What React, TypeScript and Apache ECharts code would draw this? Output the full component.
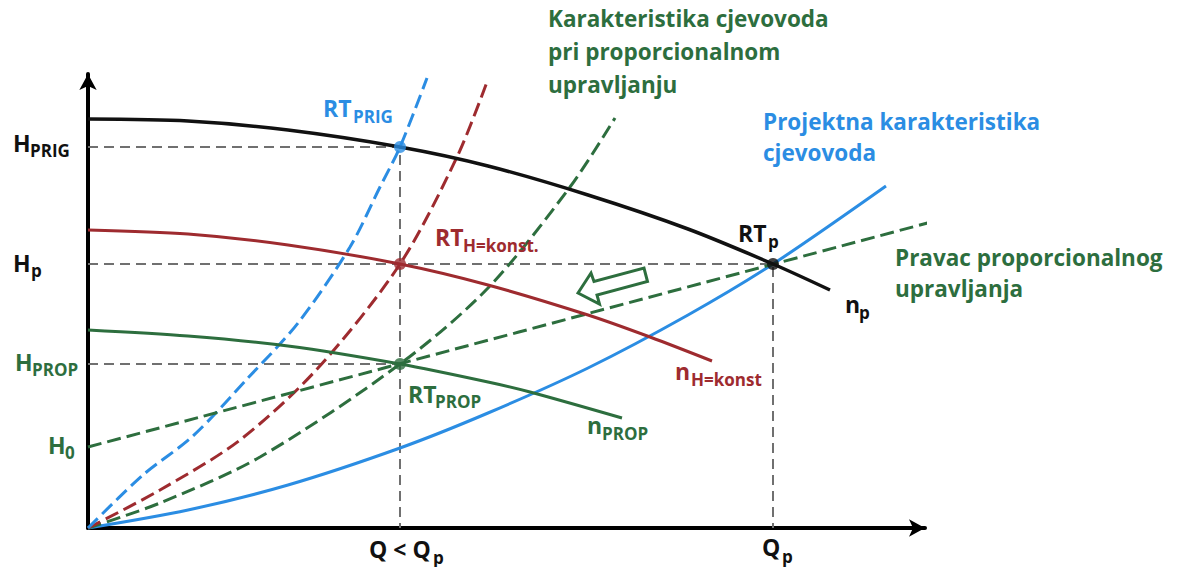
import React, { useEffect, useRef } from "react";
import * as echarts from "echarts";

// Pump curve n_p (black)
const npQ = [0, 100, 200, 312, 400, 500, 600, 685, 742];
const npH = [409, 407, 398, 381, 362, 333, 299, 264, 238];
// Pump curve n_H=konst (red)
const nHkQ = [0, 100, 200, 312, 400, 500, 562, 624];
const nHkH = [298, 294, 283, 264, 243, 213, 191, 167];
// Pump curve n_PROP (green)
const nPropQ = [0, 100, 200, 312, 400, 442, 534];
const nPropH = [198, 192, 182, 164, 146, 136, 110];
// Projektna karakteristika cjevovoda (blue solid)
const sysQ = [0, 100, 200, 312, 400, 500, 600, 685, 798];
const sysH = [0, 18, 43, 80, 115, 160, 213, 264, 342];
// System curve through RT_PRIG (blue dashed)
const prigQ = [0, 55, 105, 160, 210, 262, 292, 312, 339];
const prigH = [0, 53, 92, 150, 205, 281, 341, 381, 450];
// System curve through RT_H=konst (red dashed)
const hkQ = [0, 72, 152, 230, 312, 369, 399];
const hkH = [0, 38, 88, 160, 264, 371, 446];
// Karakteristika cjevovoda pri proporcionalnom upravljanju (green dashed)
const psQ = [0, 72, 172, 312, 400, 482, 527];
const psH = [0, 25, 71, 164, 240, 341, 410];
// Pravac proporcionalnog upravljanja (green dashed straight)
const plQ = [0, 862];
const plH = [81, 311];

// Key operating values
const qLow = 312;
const qP = 685;
const hPrig = 381;
const hP = 264;
const hProp = 164;

const BLUE = "#2b8de3";
const RED = "#9e2b2f";
const GREEN = "#2d6e3e";
const BLACK = "#111111";
const GRAY = "#707070";
const FONT = '"Open Sans", sans-serif';

const pair = (q: number[], h: number[]) => q.map((v, i) => [v, h[i]]);

const curve = (data: number[][], color: string, width: number, dashed: boolean, z = 3) => ({
  type: "line",
  data,
  smooth: 0.3,
  symbol: "none",
  clip: false,
  silent: true,
  z,
  lineStyle: { color, width, type: dashed ? [14, 6] : "solid", cap: "butt" },
});

const guide = (data: number[][]) => ({
  type: "line",
  data,
  symbol: "none",
  clip: false,
  silent: true,
  z: 2,
  lineStyle: { color: GRAY, width: 2, type: [10, 6] },
});

const txt = (x: number, y: number, text: string, size: number, color: string) => ({
  type: "text",
  x,
  y,
  z: 100,
  style: {
    text,
    fontSize: size,
    fontWeight: "bold",
    fontFamily: FONT,
    fill: color,
    lineHeight: Math.round(size * 1.05),
    align: "left",
    verticalAlign: "middle",
    textAlign: "left",
    textVerticalAlign: "middle",
  },
});

const M = 23; // main label size
const S = 17; // subscript size
const B = 22.5; // text block size

const labels = [
  txt(13, 143, "H", M, BLACK), txt(30, 150, "PRIG", S, BLACK),
  txt(13, 263, "H", M, BLACK), txt(31, 270, "p", S, BLACK),
  txt(15, 362, "H", M, GREEN), txt(32, 369, "PROP", S, GREEN),
  txt(48, 445, "H", M, GREEN), txt(65, 452, "0", S, GREEN),
  txt(369, 549, "Q < Q", M, BLACK), txt(433, 557, "p", S, BLACK),
  txt(762, 547, "Q", M, BLACK), txt(782, 556, "p", S, BLACK),
  txt(323, 108, "RT", M, BLUE), txt(353, 116, "PRIG", S, BLUE),
  txt(435, 237, "RT", M, RED), txt(463, 245, "H=konst.", S, RED),
  txt(408, 394, "RT", M, GREEN), txt(435, 401, "PROP", S, GREEN),
  txt(738, 233, "RT", M, BLACK), txt(768, 241, "p", S, BLACK),
  txt(845, 304, "n", M, BLACK), txt(859, 312, "p", S, BLACK),
  txt(675, 371, "n", M, RED), txt(691, 379, "H=konst", S, RED),
  txt(587, 425, "n", M, GREEN), txt(602, 433, "PROP", S, GREEN),
  txt(548, 18, "Karakteristika cjevovoda", B, GREEN),
  txt(548, 51, "pri proporcionalnom", B, GREEN),
  txt(548, 84, "upravljanju", B, GREEN),
  txt(763, 121, "Projektna karakteristika", B, BLUE),
  txt(763, 152, "cjevovoda", B, BLUE),
  txt(895, 257, "Pravac proporcionalnog", B, GREEN),
  txt(895, 288, "upravljanja", B, GREEN),
];

const arrow = {
  type: "polygon",
  z: 50,
  shape: {
    points: [
      [578, 293],
      [591, 273],
      [594, 281.5],
      [644, 268],
      [647.5, 281.5],
      [597, 295],
      [599.5, 304],
    ],
  },
  style: { fill: "#ffffff", stroke: GREEN, lineWidth: 3, lineJoin: "miter" },
};

const axisCommon = (max: number) => ({
  type: "value",
  min: 0,
  max,
  axisLine: {
    show: true,
    onZero: true,
    symbol: ["none", "arrow"],
    symbolSize: [13, 16],
    lineStyle: { color: "#000", width: 4 },
  },
  axisTick: { show: false },
  axisLabel: { show: false },
  splitLine: { show: false },
});

const option = {
  animation: false,
  backgroundColor: "#ffffff",
  grid: { left: 88, right: 262, top: 74, bottom: 39, containLabel: false },
  xAxis: axisCommon(837),
  yAxis: axisCommon(454),
  series: [
    guide([[0, hPrig], [qLow, hPrig], [qLow, 0]]),
    guide([[0, hP], [qP, hP], [qP, 0]]),
    guide([[0, hProp], [qLow, hProp]]),
    curve(pair(sysQ, sysH), BLUE, 3, false),
    curve(pair(psQ, psH), GREEN, 3, true),
    curve(pair(hkQ, hkH), RED, 3, true),
    curve(pair(prigQ, prigH), BLUE, 3, true),
    curve(pair(plQ, plH), GREEN, 3, true),
    curve(pair(nPropQ, nPropH), GREEN, 3, false, 4),
    curve(pair(nHkQ, nHkH), RED, 3, false, 4),
    curve(pair(npQ, npH), BLACK, 3.5, false, 4),
    {
      type: "scatter",
      symbolSize: 12,
      z: 10,
      silent: true,
      data: [
        { value: [qLow, hPrig], itemStyle: { color: BLUE } },
        { value: [qLow, hP], itemStyle: { color: RED } },
        { value: [qLow, hProp], itemStyle: { color: GREEN } },
        { value: [qP, hP], itemStyle: { color: BLACK } },
      ],
    },
  ],
  graphic: [arrow, ...labels],
};

export default function App() {
  const ref = useRef<HTMLDivElement>(null);
  useEffect(() => {
    const chart = echarts.init(ref.current as HTMLDivElement, null, { renderer: "svg" });
    chart.setOption(option as any);
    return () => chart.dispose();
  }, []);
  return (
    <div
      ref={ref}
      style={{ position: "fixed", left: 0, top: 0, width: 1187, height: 567, background: "#fff" }}
    />
  );
}
